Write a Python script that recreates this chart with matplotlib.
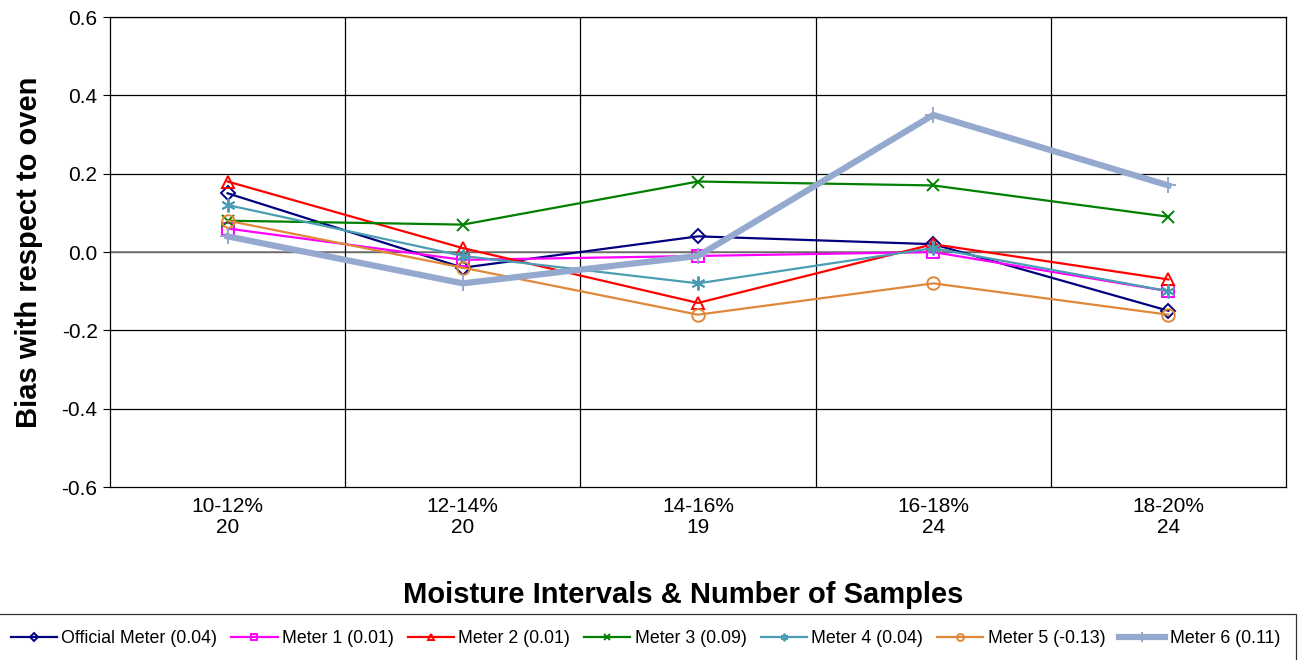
import matplotlib.pyplot as plt
import numpy as np

plt.rcParams['font.family'] = ['Liberation Sans', 'DejaVu Sans']

categories = ['10-12%\n20', '12-14%\n20', '14-16%\n19', '16-18%\n24', '18-20%\n24']

official = [0.15, -0.04, 0.04, 0.02, -0.15]
meter1 = [0.06, -0.02, -0.01, 0.00, -0.10]
meter2 = [0.18, 0.01, -0.13, 0.02, -0.07]
meter3 = [0.08, 0.07, 0.18, 0.17, 0.09]
meter4 = [0.12, -0.01, -0.08, 0.01, -0.10]
meter5 = [0.08, -0.04, -0.16, -0.08, -0.16]
meter6 = [0.04, -0.08, -0.01, 0.35, 0.17]

names = ['Official Meter (0.04)', 'Meter 1 (0.01)', 'Meter 2 (0.01)', 'Meter 3 (0.09)',
         'Meter 4 (0.04)', 'Meter 5 (-0.13)', 'Meter 6 (0.11)']

fig = plt.figure(figsize=(13.08, 6.6), dpi=100)
ax = fig.add_axes([0.0841, 0.2621, 0.8991, 0.7121])

x = np.arange(len(categories))

# gridlines
for yv in np.arange(-0.4, 0.61, 0.2):
    ax.axhline(yv, color='black', lw=0.9, zorder=0)
ax.axhline(0, color='#808080', lw=1.2, zorder=0)
for xv in np.arange(0.5, 4.0, 1.0):
    ax.axvline(xv, color='black', lw=0.9, zorder=0)

series = [
    (official, '#000080', 'D', 7, 1.6, 7),
    (meter1, '#FF00FF', 's', 8, 1.6, 8),
    (meter2, '#FF0000', '^', 9, 1.6, 9),
    (meter3, '#008000', 'x', 9, 1.6, 10),
    (meter4, '#4A9DB3', (6, 2, 0), 10, 1.6, 11),
    (meter5, '#E0883A', 'o', 9, 1.6, 12),
    (meter6, '#95A9CF', '+', 12, 4.5, 13),
]

lines = []
for (vals, col, mk, ms, lw, z), nm in zip(series, names):
    ln, = ax.plot(x, vals, color=col, marker=mk, markerfacecolor='none', markeredgecolor=col,
                  markersize=ms, markeredgewidth=1.4, lw=lw, label=nm, zorder=z)
    lines.append(ln)

ax.set_xlim(-0.5, 4.5)
ax.set_ylim(-0.6, 0.6)
ax.set_yticks(np.arange(-0.6, 0.61, 0.2))
ax.set_yticklabels(['%.1f' % v for v in np.arange(-0.6, 0.61, 0.2)], fontsize=15)
ax.set_xticks(x)
ax.set_xticklabels(categories, fontsize=15, linespacing=1.15)
ax.tick_params(axis='x', length=0, pad=7)
ax.tick_params(axis='y', length=5, direction='out', pad=4)
for s in ax.spines.values():
    s.set_color('black')
    s.set_linewidth(0.9)

ax.set_ylabel('Bias with respect to oven', fontsize=21, fontweight='bold', labelpad=13)
fig.text(0.522, 0.098, 'Moisture Intervals & Number of Samples', fontsize=21,
         fontweight='bold', ha='center', va='center')

leg = fig.legend(handles=lines, loc='upper left', bbox_to_anchor=(-0.004, 0.0697),
                 ncol=7, fontsize=12.8, frameon=True, fancybox=False,
                 handlelength=2.6, handletextpad=0.25, columnspacing=0.78, borderaxespad=0.0,
                 borderpad=0.9, markerscale=0.55)
leg.get_frame().set_edgecolor('black')
leg.get_frame().set_linewidth(0.9)

fig.savefig('out.png', dpi=100)
